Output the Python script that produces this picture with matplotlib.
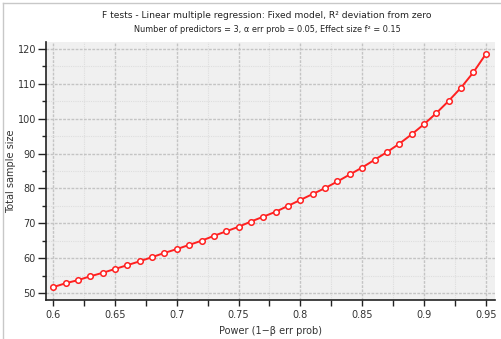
import matplotlib
matplotlib.use("Agg")
import matplotlib.pyplot as plt
from matplotlib.lines import Line2D
import numpy as np

power = [0.60, 0.61, 0.62, 0.63, 0.64, 0.65, 0.66, 0.67, 0.68, 0.69,
         0.70, 0.71, 0.72, 0.73, 0.74, 0.75, 0.76, 0.77, 0.78, 0.79,
         0.80, 0.81, 0.82, 0.83, 0.84, 0.85, 0.86, 0.87, 0.88, 0.89,
         0.90, 0.91, 0.92, 0.93, 0.94, 0.95]
sample_size = [51.7, 52.8, 53.7, 54.8, 55.8, 56.9, 58.0, 59.1, 60.3, 61.5,
               62.6, 63.8, 65.0, 66.4, 67.7, 69.0, 70.5, 71.9, 73.3, 75.0,
               76.7, 78.4, 80.1, 82.0, 84.0, 86.0, 88.2, 90.4, 92.8, 95.5,
               98.4, 101.6, 105.1, 108.9, 113.3, 118.5]
x_ticks = [0.6, 0.65, 0.7, 0.75, 0.8, 0.85, 0.9, 0.95]
x_ticklabels = ['0.6', '0.65', '0.7', '0.75', '0.8', '0.85', '0.9', '0.95']
y_ticks = [50, 60, 70, 80, 90, 100, 110, 120]

title = 'F tests - Linear multiple regression: Fixed model, R² deviation from zero'
subtitle = 'Number of predictors = 3, α err prob = 0.05, Effect size f² = 0.15'

fig = plt.figure(figsize=(5.02, 3.39), dpi=100)
fig.patch.set_facecolor('white')

# thin window frame
fig.add_artist(Line2D([3/502, 1], [1 - 3/339, 1 - 3/339], color='#c8c8c8', lw=1))
fig.add_artist(Line2D([3/502, 3/502], [0, 1 - 3/339], color='#c8c8c8', lw=1))

ax = fig.add_axes([45.7/502, 39/339, (495 - 45.7)/502, (300 - 42)/339])
ax.set_facecolor('#f0f0f0')

ax.plot(power, sample_size, color='#ff2020', lw=1.4, marker='o', ms=4.0,
        mfc='white', mec='#ff2020', mew=1.1, zorder=5, clip_on=False)

ax.set_xlim(0.5939, 0.9575)
ax.set_ylim(48.0, 122.0)

ax.set_xticks(x_ticks)
ax.set_xticklabels(x_ticklabels)
ax.set_xticks(np.array(x_ticks[:-1]) + 0.025, minor=True)
ax.set_yticks(y_ticks)
ax.set_yticks(np.array(y_ticks[:-1]) + 5, minor=True)

ax.grid(which='major', color='#c4c4c4', linestyle=(0, (2, 1)), lw=1.0)
ax.grid(which='minor', color='#dedede', linestyle=(0, (1, 1)), lw=0.8)
ax.set_axisbelow(True)

for s in ['top', 'right']:
    ax.spines[s].set_visible(False)
for s in ['left', 'bottom']:
    ax.spines[s].set_color('#222222')
    ax.spines[s].set_linewidth(1.2)

ax.tick_params(axis='x', which='both', direction='out', length=4, width=1,
               color='#222222', labelsize=7, labelcolor='#333333', pad=3)
ax.tick_params(axis='y', which='major', direction='out', length=6, width=1,
               color='#222222', labelsize=7, labelcolor='#333333', pad=1)
ax.tick_params(axis='y', which='minor', direction='out', length=3, width=1,
               color='#222222')

ax.set_xlabel('Power (1−β err prob)', fontsize=7, color='#333333')
ax.xaxis.set_label_coords(0.5, (300 - 326) / 258)
ax.set_ylabel('Total sample size', fontsize=7, color='#333333')
ax.yaxis.set_label_coords((16 - 45.7) / 449.3, 0.5)

fig.text(0.5 + 16/502, 1 - 15/339, title, ha='center', va='center',
         fontsize=6.6, color='#222222')
fig.text(0.5 + 16/502, 1 - 30/339, subtitle, ha='center', va='center',
         fontsize=5.9, color='#222222')

fig.savefig('out.png', dpi=100)
